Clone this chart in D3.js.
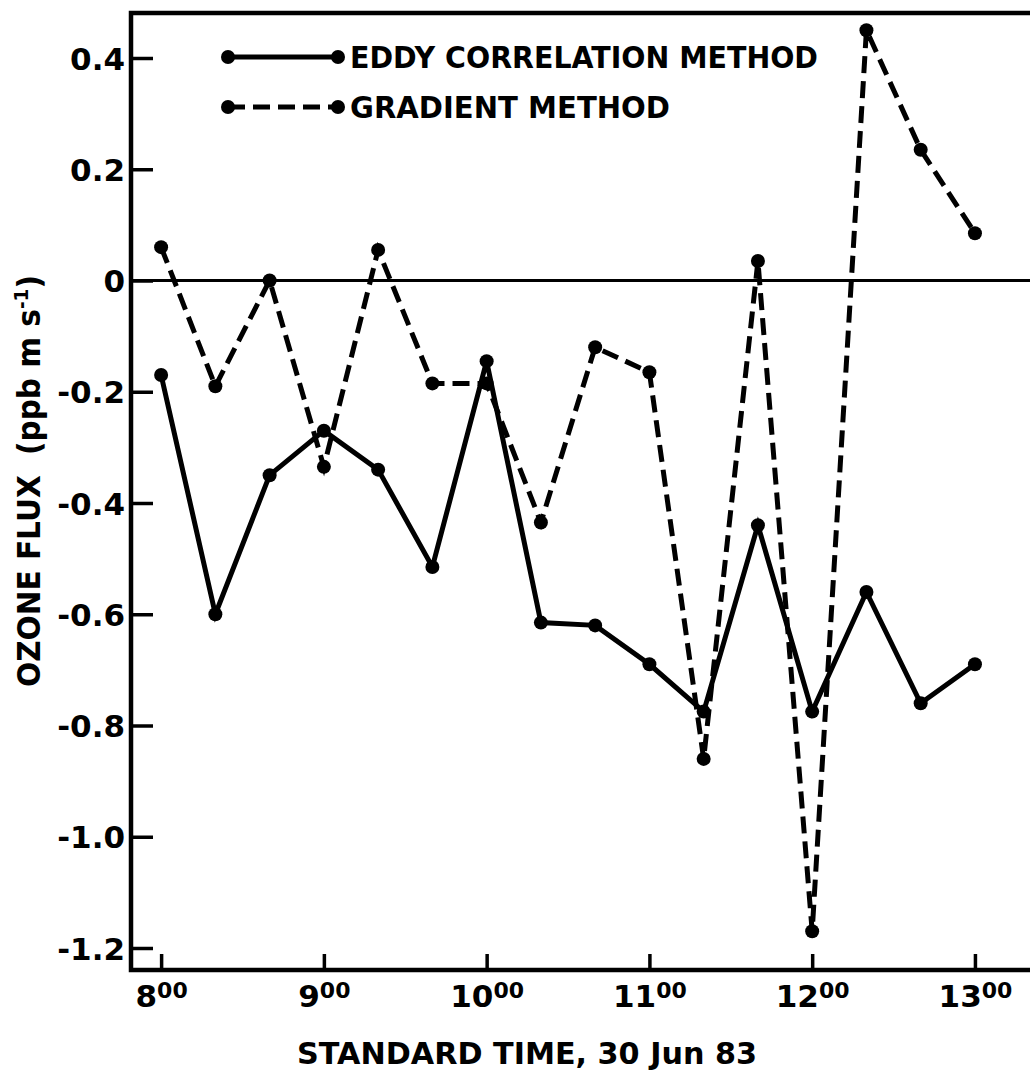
<!DOCTYPE html>
<html><head><meta charset="utf-8">
<script src="https://cdn.jsdelivr.net/npm/d3@7"></script>
<style>body{margin:0;background:#fff}svg{display:block}</style>
</head><body>
<svg id="chart" width="1030" height="1071"></svg>
<script>
// ---- data ----
const times = ["0800","0820","0840","0900","0920","0940","1000","1020","1040","1100","1120","1140","1200","1220","1240","1300"];
const eddy = [-0.17,-0.60,-0.35,-0.27,-0.34,-0.515,-0.145,-0.615,-0.62,-0.69,-0.775,-0.44,-0.775,-0.56,-0.76,-0.69];
const gradient = [0.06,-0.19,0.00,-0.335,0.055,-0.185,-0.185,-0.435,-0.12,-0.165,-0.86,0.035,-1.17,0.45,0.235,0.085];
const yTicks = [0.4,0.2,0,-0.2,-0.4,-0.6,-0.8,-1.0,-1.2];
const yTickLabels = ["0.4","0.2","0","-0.2","-0.4","-0.6","-0.8","-1.0","-1.2"];
const xTicks = [8,9,10,11,12,13];
const xTickMain = ["8","9","10","11","12","13"];
const xTickSup = "00";
const seriesNames = ["EDDY CORRELATION METHOD","GRADIENT METHOD"];
const xTitle = "STANDARD TIME, 30 Jun 83";

const toHours = t => +t.slice(0,2) + (+t.slice(2))/60;

const svg = d3.select("#chart");
const L = 131, T = 13, R = 1034, B = 970;
const x = d3.scaleLinear().domain([7.815, 13 + (R-975)/162.6]).range([L, R]);
const y = d3.scaleLinear().domain([0.4, -1.2]).range([58, 948]);
const font = "'DejaVu Sans', Arial, sans-serif";

// zero line
svg.append("line").attr("x1", L).attr("x2", 1030).attr("y1", y(0)).attr("y2", y(0))
  .attr("stroke", "#000").attr("stroke-width", 3);

// frame: left, top, bottom
svg.append("path").attr("d", `M${1032},${T}H${L}V${B}H${1032}`)
  .attr("fill","none").attr("stroke","#000").attr("stroke-width",4.5);

// y axis
const yAxis = d3.axisLeft(y).tickValues(yTicks).tickSize(-22).tickFormat((d,i)=>yTickLabels[i]).tickPadding(32);
const gy = svg.append("g").attr("transform", `translate(${L},0)`).call(yAxis);
gy.select(".domain").remove();
gy.selectAll(".tick line").attr("stroke","#000").attr("stroke-width",3.5);
gy.selectAll(".tick text").attr("font-family", font).attr("font-weight","bold")
  .attr("font-size", 31).attr("fill","#000").attr("x", -6).attr("dy","0.36em");

// x axis
const xAxis = d3.axisBottom(x).tickValues(xTicks).tickSize(-16).tickFormat("");
const gx = svg.append("g").attr("transform", `translate(0,${B})`).call(xAxis);
gx.select(".domain").remove();
gx.selectAll(".tick line").attr("stroke","#000").attr("stroke-width",3.5);
gx.selectAll(".tick").each(function(d,i){
  const t = d3.select(this).append("text").attr("font-family", font).attr("font-weight","bold")
    .attr("fill","#000").attr("y", 37).attr("text-anchor","middle");
  t.append("tspan").attr("font-size", 31).text(xTickMain[i]);
  t.append("tspan").attr("font-size", 22).attr("dy", -9).text(xTickSup);
});

// titles
svg.append("text").attr("x", 527).attr("y", 1064).attr("text-anchor","middle")
  .attr("font-family", font).attr("font-weight","bold").attr("font-size", 31)
  .attr("textLength", 460).attr("lengthAdjust","spacingAndGlyphs").text(xTitle);

const yt = svg.append("text").attr("transform", "translate(40,481) rotate(-90)")
  .attr("text-anchor","middle").attr("font-family", font).attr("font-weight","bold")
  .attr("font-size", 32).attr("textLength", 412).attr("lengthAdjust","spacingAndGlyphs");
yt.append("tspan").text("OZONE FLUX");
yt.append("tspan").attr("dx", 22).text("(ppb m s");
yt.append("tspan").attr("font-size", 20).attr("dy", -12).text("-1");
yt.append("tspan").attr("dy", 12).text(")");

// series
const line = d3.line().x(d => x(toHours(d.t))).y(d => y(d.v));
const eddyData = times.map((t,i)=>({t, v: eddy[i]}));
const gradData = times.map((t,i)=>({t, v: gradient[i]}));

svg.append("path").datum(gradData).attr("d", line).attr("fill","none")
  .attr("stroke","#000").attr("stroke-width",5).attr("stroke-dasharray","17,8");
svg.append("path").datum(eddyData).attr("d", line).attr("fill","none")
  .attr("stroke","#000").attr("stroke-width",5);

svg.selectAll(".pe").data(eddyData).join("circle").attr("class","pe")
  .attr("cx", d=>x(toHours(d.t))).attr("cy", d=>y(d.v)).attr("r", 7).attr("fill","#000");
svg.selectAll(".pg").data(gradData).join("circle").attr("class","pg")
  .attr("cx", d=>x(toHours(d.t))).attr("cy", d=>y(d.v)).attr("r", 7).attr("fill","#000");

// legend
const leg = [{y:57, dash:null, name:seriesNames[0], w:468},{y:107, dash:"17,8", name:seriesNames[1], w:320}];
leg.forEach(l=>{
  svg.append("line").attr("x1",228).attr("x2",338).attr("y1",l.y).attr("y2",l.y)
    .attr("stroke","#000").attr("stroke-width",5).attr("stroke-dasharray", l.dash);
  [228,338].forEach(cx=>svg.append("circle").attr("cx",cx).attr("cy",l.y).attr("r",7).attr("fill","#000"));
  svg.append("text").attr("x",350).attr("y",l.y).attr("dy","0.36em")
    .attr("font-family", font).attr("font-weight","bold").attr("font-size",31)
    .attr("textLength", l.w).attr("lengthAdjust","spacingAndGlyphs").text(l.name);
});
</script>
</body></html>
